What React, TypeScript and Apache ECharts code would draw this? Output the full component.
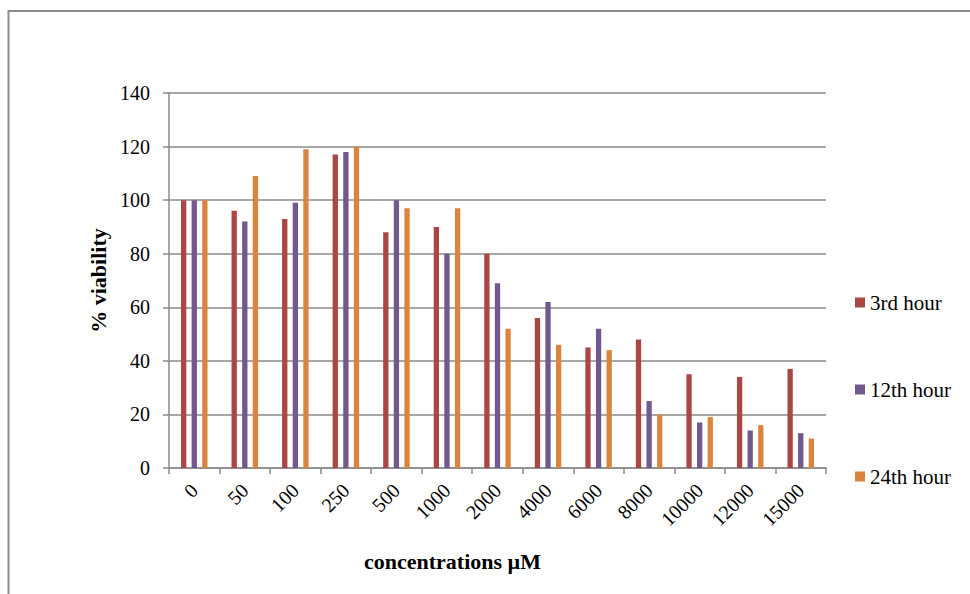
import React, { useEffect, useRef } from "react";
import * as echarts from "echarts";

// Concentrations tested (µM) and viability (%) at each time point
const concentrations = ["0", "50", "100", "250", "500", "1000", "2000", "4000", "6000", "8000", "10000", "12000", "15000"];
const hour3 = [100, 96, 93, 117, 88, 90, 80, 56, 45, 48, 35, 34, 37];
const hour12 = [100, 92, 99, 118, 100, 80, 69, 62, 52, 25, 17, 14, 13];
const hour24 = [100, 109, 119, 120, 97, 97, 52, 46, 44, 20, 19, 16, 11];
const seriesNames = ["3rd hour", "12th hour", "24th hour"];
const seriesColors = ["#AA4643", "#71588F", "#DB843D"];

const FONT = "'Liberation Serif', 'Times New Roman', serif";
const GRID_GRAY = "#8a8a8a";

export default function App() {
  const ref = useRef<HTMLDivElement>(null);

  useEffect(() => {
    if (!ref.current) return;
    const chart = echarts.init(ref.current, undefined, { renderer: "svg" });
    const values = [hour3, hour12, hour24];

    chart.setOption({
      animation: false,
      backgroundColor: "#ffffff",
      textStyle: { fontFamily: FONT, color: "#000" },
      graphic: [
        {
          type: "rect",
          shape: { x: 8.5, y: 11, width: 1000, height: 700 },
          style: { fill: "none", stroke: "#8c8c8c", lineWidth: 2 },
          silent: true,
        },
      ],
      grid: { left: 169, right: 144, top: 93, bottom: 126 },
      legend: {
        orient: "vertical",
        left: 855,
        top: 292,
        padding: 0,
        itemWidth: 10,
        itemHeight: 10,
        itemGap: 66,
        icon: "rect",
        data: seriesNames,
        textStyle: { fontFamily: FONT, fontSize: 21, color: "#000" },
      },
      xAxis: {
        type: "category",
        data: concentrations,
        name: "concentrations µM",
        nameLocation: "middle",
        nameGap: 82,
        nameTextStyle: {
          fontFamily: FONT,
          fontSize: 22,
          fontWeight: "bold",
          color: "#000",
          verticalAlign: "top",
          padding: [0, 90, 0, 0],
        },
        axisLine: { lineStyle: { color: GRID_GRAY, width: 1.5 } },
        axisTick: { show: true, length: 6, lineStyle: { color: GRID_GRAY, width: 1.5 } },
        axisLabel: {
          rotate: 45,
          margin: 19,
          interval: 0,
          fontFamily: FONT,
          fontSize: 20,
          color: "#000",
        },
      },
      yAxis: {
        type: "value",
        min: 0,
        max: 140,
        interval: 20,
        name: "% viability",
        nameLocation: "middle",
        nameRotate: 90,
        nameGap: 60,
        nameTextStyle: { fontFamily: FONT, fontSize: 22, fontWeight: "bold", color: "#000" },
        axisLine: { show: true, lineStyle: { color: GRID_GRAY, width: 1.5 } },
        axisTick: { show: true, length: 6, lineStyle: { color: GRID_GRAY, width: 1.5 } },
        axisLabel: { margin: 19, fontFamily: FONT, fontSize: 20, color: "#000" },
        splitLine: { show: true, lineStyle: { color: GRID_GRAY, width: 1.5 } },
      },
      series: seriesNames.map((name, i) => ({
        name,
        type: "bar",
        data: values[i],
        barWidth: 5.3,
        barGap: "100%",
        itemStyle: { color: seriesColors[i] },
      })),
    });

    return () => chart.dispose();
  }, []);

  return (
    <div
      ref={ref}
      style={{ position: "absolute", left: 0, top: 0, width: 970, height: 594 }}
    />
  );
}
